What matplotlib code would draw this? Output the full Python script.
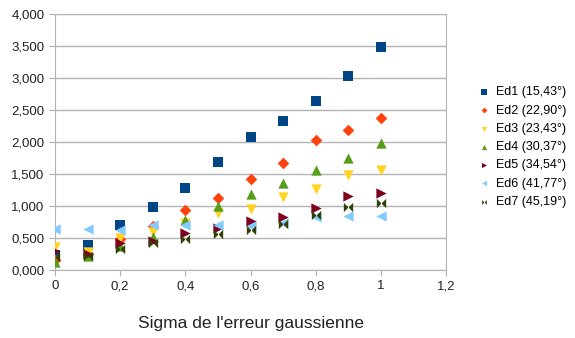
import numpy as np
from matplotlib import pyplot as plt
from matplotlib.path import Path
from matplotlib.ticker import FuncFormatter

plt.rcParams['font.family'] = ['Liberation Sans', 'DejaVu Sans']

sigma = [0, 0.1, 0.2, 0.3, 0.4, 0.5, 0.6, 0.7, 0.8, 0.9, 1.0]

ed1 = [0.23, 0.39, 0.70, 0.98, 1.28, 1.69, 2.08, 2.33, 2.64, 3.03, 3.48]
ed2 = [0.16, 0.25, 0.48, 0.68, 0.93, 1.13, 1.42, 1.67, 2.03, 2.19, 2.37]
ed3 = [0.36, 0.28, 0.50, 0.60, 0.74, 0.89, 0.95, 1.14, 1.26, 1.48, 1.56]
ed4 = [0.13, 0.22, 0.38, 0.52, 0.78, 1.00, 1.18, 1.36, 1.57, 1.75, 1.99]
ed5 = [0.30, 0.25, 0.42, 0.45, 0.58, 0.66, 0.77, 0.83, 0.97, 1.15, 1.21]
ed6 = [0.64, 0.64, 0.62, 0.70, 0.70, 0.70, 0.68, 0.74, 0.83, 0.84, 0.85]
ed7 = [0.20, 0.22, 0.33, 0.42, 0.48, 0.56, 0.63, 0.72, 0.86, 0.98, 1.04]

labels = ['Ed1 (15,43°)', 'Ed2 (22,90°)', 'Ed3 (23,43°)', 'Ed4 (30,37°)',
          'Ed5 (34,54°)', 'Ed6 (41,77°)', 'Ed7 (45,19°)']
colors = ['#004586', '#ff420e', '#ffd320', '#579d1c', '#7e0021', '#83caff', '#314004']

# two triangles meeting at the centre
bowtie = Path([(-1, -1), (0, 0), (-1, 1), (-1, -1), (1, -1), (0, 0), (1, 1), (1, -1)],
              [Path.MOVETO, Path.LINETO, Path.LINETO, Path.CLOSEPOLY,
               Path.MOVETO, Path.LINETO, Path.LINETO, Path.CLOSEPOLY])
markers = ['s', 'D', 'v', '^', '>', '<', bowtie]
sizes = [55, 35, 55, 55, 55, 55, 45]

fig = plt.figure(figsize=(5.75, 3.38), dpi=100)
ax = fig.add_axes([55/575, 1 - 270/338, (446 - 55)/575, (270 - 14)/338])

series = [ed1, ed2, ed3, ed4, ed5, ed6, ed7]
for vals, lab, c, m, s in zip(series, labels, colors, markers, sizes):
    ax.scatter(sigma, vals, marker=m, s=s, color=c, label=lab, linewidths=0, zorder=3)

ax.set_xlim(0, 1.2)
ax.set_ylim(0, 4)
ax.set_xticks(np.arange(0, 1.21, 0.2))
ax.set_yticks(np.arange(0, 4.01, 0.5))
ax.xaxis.set_major_formatter(FuncFormatter(lambda v, p: ('%g' % round(v, 1)).replace('.', ',')))
ax.yaxis.set_major_formatter(FuncFormatter(lambda v, p: ('%.3f' % v).replace('.', ',')))
ax.grid(axis='y', color='#b3b3b3', linewidth=1)
ax.set_axisbelow(True)
for sp in ax.spines.values():
    sp.set_color('#b3b3b3')
ax.tick_params(colors='#b3b3b3', labelcolor='#222222', labelsize=9.5, length=4)

ax.set_xlabel("Sigma de l'erreur gaussienne", fontsize=12.5, color='#222222', labelpad=17)

ax.legend(loc='center left', bbox_to_anchor=(1.05, 0.48), frameon=False, fontsize=9,
          handletextpad=0.3, labelspacing=0.5, handlelength=1.2, markerscale=0.5)

fig.savefig('out.png', dpi=100)
